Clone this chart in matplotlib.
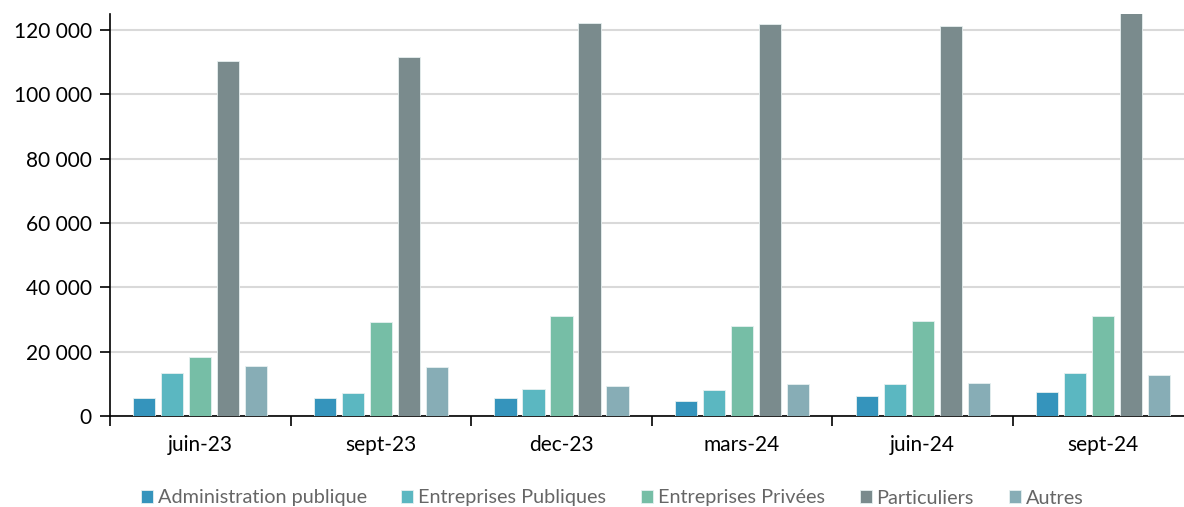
import numpy as np
import matplotlib.pyplot as plt
from matplotlib.ticker import FuncFormatter

# Trimestres et séries
trimestres = ["juin-23", "sept-23", "dec-23", "mars-24", "juin-24", "sept-24"]
admin_publique = [5700, 5500, 5700, 4700, 6300, 7600]
entr_publiques = [13400, 7000, 8500, 8200, 9900, 13400]
entr_privees = [18200, 29200, 31200, 28100, 29400, 31100]
particuliers = [110300, 111500, 122200, 122000, 121200, 125800]
autres = [15500, 15200, 9300, 9900, 10400, 12700]

series = [
    ("Administration publique", admin_publique, "#3594bc"),
    ("Entreprises Publiques", entr_publiques, "#5bb7c1"),
    ("Entreprises Privées", entr_privees, "#76bea6"),
    ("Particuliers", particuliers, "#7a8b8d"),
    ("Autres", autres, "#87adb6"),
]

plt.rcParams["font.family"] = ["Lato", "DejaVu Sans"]

fig = plt.figure(figsize=(11.84, 5.07), dpi=100)
ax = fig.add_axes([110 / 1184, 91 / 507, 1083.6 / 1184, 402 / 507])

x = np.arange(len(trimestres)) + 0.5
pas = 0.155
largeur = 0.122
for i, (nom, valeurs, couleur) in enumerate(series):
    ax.bar(x + (i - 2) * pas, valeurs, largeur, color=couleur,
           edgecolor="#e6f0f0", linewidth=0.6, label=nom, zorder=3)

ax.set_xlim(0, len(trimestres))
ax.set_ylim(0, 125000)
ax.set_yticks(np.arange(0, 120001, 20000))
ax.yaxis.set_major_formatter(FuncFormatter(lambda v, p: f"{v:,.0f}".replace(",", " ")))
ax.grid(axis="y", color="#d9d9d9", linewidth=1.5, zorder=0)

# graduations aux limites des trimestres, libellés au centre
ax.set_xticks(np.arange(len(trimestres) + 1))
ax.set_xticklabels([])
ax.set_xticks(x, minor=True)
ax.set_xticklabels(trimestres, minor=True)
ax.tick_params(axis="x", which="major", length=7, width=1.2, direction="out")
ax.tick_params(axis="x", which="minor", length=0, pad=14, labelsize=15)
ax.tick_params(axis="y", length=7, width=1.2, labelsize=15, pad=6)

for s in ["top", "right"]:
    ax.spines[s].set_visible(False)
ax.spines["left"].set_linewidth(1.2)
ax.spines["bottom"].set_linewidth(1.2)

leg = fig.legend(loc="center", bbox_to_anchor=(612 / 1184, 1 - 498 / 507),
                 ncol=5, frameon=False, fontsize=14.3, handlelength=0.6,
                 handleheight=0.6, handletextpad=0.25, columnspacing=1.75)
for t in leg.get_texts():
    t.set_color("#666666")

fig.savefig("out.png", dpi=100)
